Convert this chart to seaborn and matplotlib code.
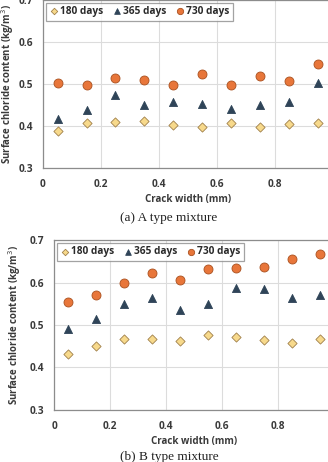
import numpy as np
import pandas as pd
import matplotlib
matplotlib.use('Agg')
import matplotlib.pyplot as plt
import seaborn as sns

# crack widths (mm)
crack = [0.05, 0.15, 0.25, 0.35, 0.45, 0.55, 0.65, 0.75, 0.85, 0.95]

# A type mixture - surface chloride content (kg/m3)
a_180 = [0.388, 0.408, 0.410, 0.413, 0.402, 0.398, 0.407, 0.398, 0.405, 0.407]
a_365 = [0.416, 0.438, 0.475, 0.449, 0.456, 0.453, 0.440, 0.449, 0.457, 0.502]
a_730 = [0.502, 0.497, 0.514, 0.510, 0.498, 0.525, 0.497, 0.520, 0.506, 0.548]

# B type mixture
b_180 = [0.431, 0.451, 0.468, 0.468, 0.463, 0.476, 0.471, 0.465, 0.458, 0.468]
b_365 = [0.491, 0.513, 0.550, 0.564, 0.536, 0.550, 0.588, 0.585, 0.564, 0.570]
b_730 = [0.554, 0.572, 0.600, 0.622, 0.606, 0.632, 0.634, 0.636, 0.656, 0.667]

series_names = ['180 days', '365 days', '730 days']
x_ticks = [0, 0.2, 0.4, 0.6, 0.8]
x_ticklabels = ['0', '0.2', '0.4', '0.6', '0.8']
y_ticks = [0.3, 0.4, 0.5, 0.6, 0.7]

styles = {
    '180 days': dict(marker='D', color='#F7D98B', edge='#A0804A', s=22),
    '365 days': dict(marker='^', color='#2F4458', edge='#2F4458', s=34),
    '730 days': dict(marker='o', color='#E8763A', edge='#A9501F', s=42),
}

sns.set_style('whitegrid')
plt.rcParams['font.family'] = ['Open Sans', 'DejaVu Sans']

fig = plt.figure(figsize=(3.28, 4.62), dpi=100)
ax_a = fig.add_axes([43 / 328, 294 / 462, 290 / 328, 168 / 462])
ax_b = fig.add_axes([54 / 328, 52.3 / 462, 280 / 328, 169.4 / 462])


def draw_panel(ax, values, ylabelpad, xpad):
    frames = []
    for name, vals in zip(series_names, values):
        frames.append(pd.DataFrame({'crack': crack, 'content': vals, 'age': name}))
    df = pd.concat(frames, ignore_index=True)
    for name in series_names:
        st = styles[name]
        sub = df[df['age'] == name]
        sns.scatterplot(data=sub, x='crack', y='content', ax=ax, marker=st['marker'],
                        color=st['color'], edgecolor=st['edge'], linewidth=0.6,
                        s=st['s'], label=name, zorder=3)
    ax.set_xlim(0, 1)
    ax.set_ylim(0.3, 0.7)
    ax.set_xticks(x_ticks)
    ax.set_xticklabels(x_ticklabels)
    ax.set_yticks(y_ticks)
    ax.set_yticklabels([f'{v:.1f}' for v in y_ticks])
    ax.grid(True, color='#DCDCDC', linewidth=0.8)
    for sp in ax.spines.values():
        sp.set_color('#8C8C8C')
        sp.set_linewidth(0.9)
    ax.tick_params(axis='both', length=0, labelsize=7.3, labelcolor='#3A3A3A')
    ax.tick_params(axis='y', pad=7)
    ax.tick_params(axis='x', pad=xpad)
    for t in ax.get_xticklabels() + ax.get_yticklabels():
        t.set_fontweight('bold')
    ax.set_xlabel('Crack width (mm)', fontsize=7, fontweight='bold', color='#3A3A3A', labelpad=3)
    ax.set_ylabel('Surface chloride content (kg/m$^3$)', fontsize=7, fontweight='bold',
                  color='#3A3A3A', labelpad=ylabelpad)
    leg = ax.legend(loc='upper left', ncol=3, frameon=True, fancybox=False,
                    borderaxespad=0.25, handletextpad=0.15, columnspacing=0.9,
                    handlelength=0.9, borderpad=0.35, markerscale=0.7,
                    prop=dict(size=7.3, weight='bold'))
    leg.get_frame().set_edgecolor('#8C8C8C')
    leg.get_frame().set_linewidth(0.9)
    for txt in leg.get_texts():
        txt.set_color('#2A2A2A')


draw_panel(ax_a, [a_180, a_365, a_730], 2, 8)
draw_panel(ax_b, [b_180, b_365, b_730], 5, 8)

fig.text(169 / 328, 1 - 218 / 462, '(a) A type mixture', ha='center', va='center',
         fontsize=9.5, family='Liberation Serif', color='#222222')
fig.text(169 / 328, 1 - 457 / 462, '(b) B type mixture', ha='center', va='center',
         fontsize=9.5, family='Liberation Serif', color='#222222')

fig.savefig('out.png', dpi=100)
